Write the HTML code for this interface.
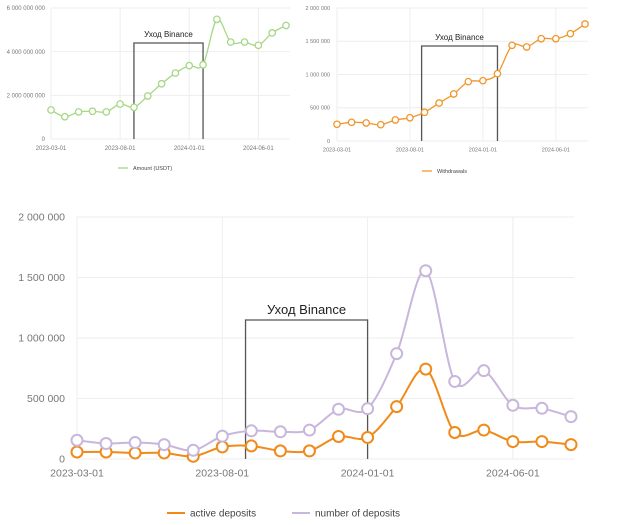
<!DOCTYPE html>
<html><head><meta charset="utf-8"><style>
body{margin:0;background:#fff;width:624px;height:520px;overflow:hidden}
svg{font-family:"Liberation Sans","Noto Sans CJK SC",sans-serif}
</style></head><body>
<svg id="s" width="624" height="520"></svg>
<script>
const months=["2023-03","2023-04","2023-05","2023-06","2023-07","2023-08","2023-09","2023-10","2023-11","2023-12","2024-01","2024-02","2024-03","2024-04","2024-05","2024-06","2024-07","2024-08"];
const xTicks=["2023-03-01","2023-08-01","2024-01-01","2024-06-01"];
const amountValues=[1.33e9,1.02e9,1.24e9,1.27e9,1.24e9,1.6e9,1.45e9,1.97e9,2.53e9,3.02e9,3.36e9,3.4e9,5.48e9,4.44e9,4.44e9,4.29e9,4.86e9,5.2e9];
const amountTicks=[0,2e9,4e9,6e9];
const withdrawValues=[251e3,281e3,271e3,245e3,316e3,350e3,432e3,571e3,707e3,892e3,907e3,1012e3,1439e3,1414e3,1538e3,1538e3,1614e3,1759e3];
const withdrawTicks=[0,5e5,1e6,1.5e6,2e6];
const activeValues=[58e3,58e3,50e3,50e3,22e3,100e3,108e3,67e3,67e3,186e3,178e3,433e3,743e3,219e3,239e3,144e3,144e3,119e3];
const numberValues=[155e3,128e3,136e3,119e3,72e3,189e3,233e3,225e3,239e3,411e3,416e3,871e3,1556e3,641e3,730e3,444e3,419e3,350e3];
const depTicks=[0,5e5,1e6,1.5e6,2e6];
const S=document.getElementById('s'),NS="http://www.w3.org/2000/svg";
function el(t,a,p){const e=document.createElementNS(NS,t);for(const k in a)e.setAttribute(k,a[k]);(p||S).appendChild(e);return e;}
function fmt(v){return Math.round(v).toString().replace(/\B(?=(\d{3})+(?!\d))/g," ");}
function smooth(pts){let d="M"+pts[0][0]+","+pts[0][1];for(let i=0;i<pts.length-1;i++){const p0=pts[Math.max(i-1,0)],p1=pts[i],p2=pts[i+1],p3=pts[Math.min(i+2,pts.length-1)];const t=0.16;d+=" C"+(p1[0]+(p2[0]-p0[0])*t)+","+(p1[1]+(p2[1]-p0[1])*t)+" "+(p2[0]-(p3[0]-p1[0])*t)+","+(p2[1]-(p3[1]-p1[1])*t)+" "+p2[0]+","+p2[1];}return d;}
function chart(c){
 const g=el('g',{});
 
 
 const max=c.ticks[c.ticks.length-1];
 const X=i=>c.x0+i*(c.x1-c.x0)/(months.length-1);
 const Y=v=>c.y0-(v/max)*(c.y0-c.yTop);
 c.ticks.forEach(t=>{
  el('line',{x1:c.x0,x2:c.right,y1:Y(t),y2:Y(t),stroke:'#eee','stroke-width':1},g);
  const tx=el('text',{x:c.lx,y:Y(t)+c.fs*0.35,'text-anchor':'end','font-size':c.fs,fill:'#777'},g);tx.textContent=fmt(t);
  
  
 });
 xTicks.forEach((t,k)=>{const i=months.indexOf(t.slice(0,7));const x=X(i);
  el('line',{x1:x,x2:x,y1:c.yTop,y2:c.y0,stroke:'#eee'},g);
  const tx=el('text',{x:x,y:c.y0+c.fs+c.xoff,'text-anchor':'middle','font-size':c.fs,fill:'#777'},g);tx.textContent=t;
  
  
 });
 const bx0=X(c.box[0]),bx1=X(c.box[1]);
 const box=el('path',{d:`M${bx0},${c.y0} V${c.boxTop} H${bx1} V${c.y0}`,fill:'none',stroke:'#555','stroke-width':1.3},g);
 
 
 const bl=el('text',{x:(bx0+bx1)/2,y:c.boxTop-6,'text-anchor':'middle','font-size':c.bfs,fill:'#222'},g);bl.textContent="Уход Binance";
 
 
 c.series.forEach(s=>{
  const pts=s.v.map((v,i)=>[X(i),Y(v)]);
  const p=el('path',{d:smooth(pts),fill:'none',stroke:s.color,'stroke-width':c.sw},g);
  
  
  pts.forEach(q=>{const ci=el('circle',{cx:q[0],cy:q[1],r:c.r,fill:'#fff',stroke:s.color,'stroke-width':c.sw},g);
   
   });
  const lg=el('line',{x1:s.lx,x2:s.lx+c.lw,y1:c.ly,y2:c.ly,stroke:s.color,'stroke-width':c.sw},g);
  
  
  const lt=el('text',{x:s.lx+c.lw+5,y:c.ly+c.lfs*0.35,'font-size':c.lfs,fill:'#444'},g);lt.textContent=s.label;
  
  
 });
}
chart({name:'amount-chart',x0:51,x1:286,right:290,y0:139,yTop:8,ticks:amountTicks,lx:45,fs:6,xoff:5,box:[6,11],boxTop:43,bfs:8,sw:1.3,r:3.2,ly:168,lw:10,lfs:5.5,
 series:[{key:'amount',v:amountValues,color:'#a6d785',label:'Amount (USDT)',lx:118}]});
chart({name:'withdrawals-chart',x0:337,x1:585,right:588,y0:141,yTop:8,ticks:withdrawTicks,lx:330,fs:5.5,xoff:5,box:[5.8,11],boxTop:46,bfs:8,sw:1.3,r:3.2,ly:171,lw:10,lfs:5.5,
 series:[{key:'withdrawals',v:withdrawValues,color:'#f0962a',label:'Withdrawals',lx:422}]});
chart({name:'deposits-chart',x0:77,x1:571,right:574,y0:459,yTop:217,ticks:depTicks,lx:65,fs:10.5,xoff:7,box:[5.8,10],boxTop:320,bfs:13,sw:2,r:5.5,ly:513,lw:18,lfs:10,
 series:[{key:'active-deposits',v:activeValues,color:'#f08a1a',label:'active deposits',lx:167},
         {key:'number-of-deposits',v:numberValues,color:'#c9b6dc',label:'number of deposits',lx:292}]});
</script>
</body></html>
